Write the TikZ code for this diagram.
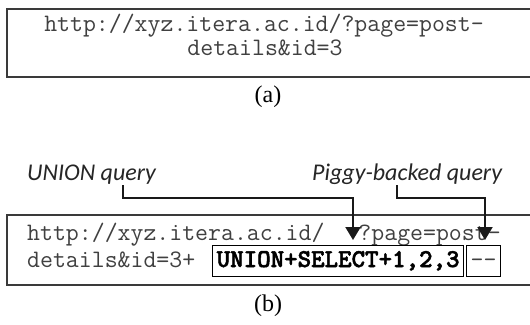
\documentclass[tikz,border=0pt]{standalone}
\usepackage{fontspec}
\setmainfont{Liberation Serif}
\newfontfamily\labelfont{Carlito}
\newfontfamily\heavymono[FakeBold=2]{lmmonolt10-bold.otf}
\usetikzlibrary{arrows.meta}
\definecolor{urlgray}{HTML}{404040}
\definecolor{framegray}{HTML}{3A3A3A}
\tikzset{
  x=1pt, y=-1pt,
  frame/.style={draw=framegray, line width=1.4pt},
  urltext/.style={inner sep=0pt, font=\fontsize{25.1}{28}\ttfamily, text=urlgray},
  partbox/.style={draw=black, line width=1.4pt, inner xsep=4pt, inner ysep=0.5pt,
    text height=21pt, text depth=9pt, font=\fontsize{25.7}{28}\heavymono, text=black},
  dashbox/.style={partbox, font=\fontsize{25.1}{28}\ttfamily, text=urlgray},
  caption/.style={inner sep=0pt, font=\fontsize{24}{28}\rmfamily},
  qlabel/.style={inner sep=0pt, font=\fontsize{24}{28}\labelfont\itshape, text=black!85, anchor=base west},
  pointer/.style={line width=2pt, draw=black!90, -{Triangle[width=15pt,length=13pt]}}
}
\begin{document}
\begin{tikzpicture}
\useasboundingbox (0,0) rectangle (530,324);
\fill[white] (0,0) rectangle (530,324);

% (a) plain request
\draw[frame] (7,9) rectangle (540,77);
\node[urltext, anchor=base] (a1) at (264,31) {http://xyz.itera.ac.id/?page=post-};
\node[urltext, anchor=base] (a2) at (265,55) {details\&id=3};
\node[caption] (capa) at (268,97) {(a)};

% (b) injected request
\draw[frame] (7,215) rectangle (540,285);
\node[urltext, anchor=base west] (b1) at (27,240) {http://xyz.itera.ac.id/\hspace{34pt}?page=post-};
\node[urltext, anchor=base west] (b2) at (27,267) {details\&id=3+};
\node[partbox, anchor=base west] (union) at (212,267) {UNION+SELECT+1,2,3};
\node[dashbox, anchor=base west] (dash) at (466,267) {--};
\node[caption] (capb) at (268,306) {(b)};

% query labels and their pointers
\node[qlabel] (ulab) at (27,180) {UNION query};
\node[qlabel] (plab) at (312,180) {Piggy-backed query};
\coordinate (ugap) at (353,240);
\coordinate (pgap) at (485,240);
\draw[pointer] (123,185) |- (ugap |- 0,198) -- (ugap);
\draw[pointer] (397,185) |- (pgap |- 0,198) -- (pgap);
\end{tikzpicture}
\end{document}
